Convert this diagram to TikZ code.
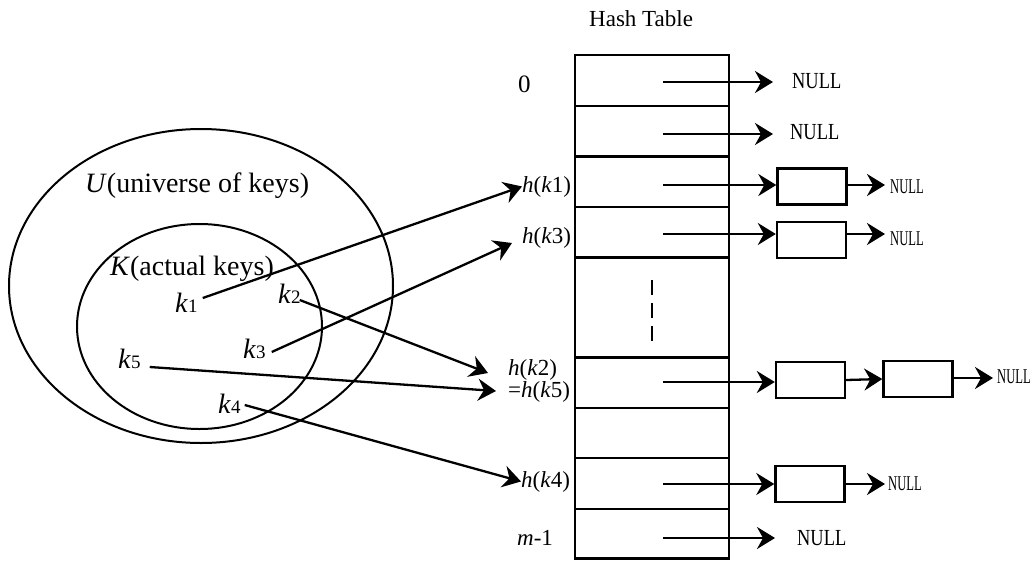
\documentclass[tikz,border=0pt]{standalone}
\usepackage{fontspec}
\setmainfont{Liberation Serif}
\usetikzlibrary{arrows.meta,shapes.geometric}

% horizontally condensed NULL labels
\newcommand\nullbig{{\fontsize{23}{25}\selectfont\scalebox{0.8}[1]{NULL}}}
\newcommand\nullsmall{{\fontsize{21}{23}\selectfont\scalebox{0.6}[1]{NULL}}}
% key with a small roman index
\newcommand\keyk[1]{\textit{k}{\fontsize{19}{20}\selectfont #1}}

\tikzset{
  rowcell/.style={draw, line width=2.6pt, minimum width=154pt, inner sep=0pt},
  listbox/.style={draw, line width=2.4pt, minimum width=69pt, minimum height=36pt, inner sep=0pt},
  ptr/.style={line width=2.3pt, -{Stealth[length=18pt,width=22pt,inset=6pt]}},
  setline/.style={draw, ellipse, line width=2pt, inner sep=0pt},
  bigtxt/.style={font=\fontsize{28}{30}\selectfont, inner sep=0pt, anchor=base west},
  keytxt/.style={font=\fontsize{28}{30}\selectfont, inner sep=0pt, anchor=base west},
  slottxt/.style={font=\fontsize{23}{25}\selectfont, inner sep=0pt, anchor=base west},
  nulltxt/.style={inner sep=0pt, anchor=base west},
  gapline/.style={line width=2.5pt, dash pattern=on 15pt off 8pt}
}

\begin{document}
\begin{tikzpicture}[x=1pt,y=-1pt]
\useasboundingbox (0,0) rectangle (1034,560);

% ---- sets of keys ----
\node[setline, minimum width=384pt, minimum height=314pt] (U) at (201,286) {};
\node[setline, minimum width=245pt, minimum height=205pt] (K) at (199.5,326.5) {};
\node[bigtxt] (Ulbl) at (85,192) {\textit{U}(universe of keys)};
\node[bigtxt] (Klbl) at (110,275) {\textit{K}(actual keys)};

\node[keytxt] (k1) at (175,312) {\keyk{1}};
\node[keytxt] (k2) at (278,303) {\keyk{2}};
\node[keytxt] (k3) at (243,358) {\keyk{3}};
\node[keytxt] (k5) at (118,368) {\keyk{5}};
\node[keytxt] (k4) at (218,413) {\keyk{4}};

% ---- hash table ----
\node[font=\fontsize{23}{25}\selectfont, inner sep=0pt, anchor=base west] (title) at (589,26) {Hash Table};

\node[rowcell, minimum height=51pt]   (r0) at (652,80.5)   {};
\node[rowcell, minimum height=50.5pt] (r1) at (652,131.25) {};
\node[rowcell, minimum height=50.5pt] (r2) at (652,181.75) {};
\node[rowcell, minimum height=50.5pt] (r3) at (652,232.25) {};
\node[rowcell, minimum height=100pt]  (r4) at (652,307.5)  {};
\node[rowcell, minimum height=50.5pt] (r5) at (652,382.75) {};
\node[rowcell, minimum height=50pt]   (r6) at (652,433)    {};
\node[rowcell, minimum height=51pt]   (r7) at (652,483.5)  {};
\node[rowcell, minimum height=49.5pt] (r8) at (652,533.75) {};

\draw[gapline] ([yshift=27.5pt]r4.center) -- ([yshift=-33.5pt]r4.center);

% slot labels
\node[slottxt, font=\fontsize{25}{27}\selectfont] (s0) at (518,92)  {0};
\node[slottxt] (h1) at (522,192) {\textit{h}(\textit{k}1)};
\node[slottxt] (h3) at (522,243) {\textit{h}(\textit{k}3)};
\node[slottxt] (h2) at (508,375) {\textit{h}(\textit{k}2)};
\node[slottxt] (h5) at (508,397) {=\textit{h}(\textit{k}5)};
\node[slottxt] (h4) at (521,487) {\textit{h}(\textit{k}4)};
\node[slottxt] (s8) at (517,545) {\textit{m}-1};

% ---- chains ----
\coordinate (p0) at (663,82);
\coordinate (p1) at (663,134);
\coordinate (p2) at (663,185);
\coordinate (p3) at (663,234);
\coordinate (p5) at (663,382);
\coordinate (p7) at (663,484);
\coordinate (p8) at (663,538);

\node[listbox] (b2) at (812,186.5) {};
\node[listbox] (b3) at (811.5,240) {};
\node[listbox] (b5a) at (810.5,380) {};
\node[listbox] (b5b) at (918,379) {};
\node[listbox] (b7) at (810,484) {};

\node[nulltxt] (n0) at (792,88)  {\nullbig};
\node[nulltxt] (n1) at (790,139) {\nullbig};
\node[nulltxt] (n2) at (890,193) {\nullsmall};
\node[nulltxt] (n3) at (890,245) {\nullsmall};
\node[nulltxt] (n5) at (997,383) {\nullsmall};
\node[nulltxt] (n7) at (888,490) {\nullsmall};
\node[nulltxt] (n8) at (797,545) {\nullbig};

\draw[ptr, shorten >=19pt] (p0) -- (p0 -| n0.west);
\draw[ptr, shorten >=17pt] (p1) -- (p1 -| n1.west);
\draw[ptr] (p2) -- (p2 -| b2.west);
\draw[ptr, shorten >=5pt] (p2 -| b2.east) -- (p2 -| n2.west);
\draw[ptr] (p3) -- (p3 -| b3.west);
\draw[ptr, shorten >=5pt] (p3 -| b3.east) -- (p3 -| n3.west);
\draw[ptr] (p5) -- (p5 -| b5a.west);
\draw[ptr] (b5a.east) -- (b5b.west);
\draw[ptr, shorten >=4pt] ([yshift=1pt]b5b.east) -- ([yshift=1pt]b5b.east -| n5.west);
\draw[ptr] (p7) -- (p7 -| b7.west);
\draw[ptr, shorten >=3pt] (b7.east) -- (b7.east -| n7.west);
\draw[ptr, shorten >=22pt] (p8) -- (p8 -| n8.west);

% ---- hashing the keys ----
\draw[ptr] ([xshift=5pt,yshift=14pt]k1.base east) -- (h1.west);
\draw[ptr] ([xshift=6pt,yshift=6pt]k3.base east) -- ([xshift=-10pt]h3.base west);
\draw[ptr] ([xshift=-1pt,yshift=3pt]k2.base east) -- ([xshift=-20pt,yshift=2pt]h2.base west);
\draw[ptr] ([xshift=9pt,yshift=1pt]k5.base east) -- ([xshift=-12pt,yshift=6pt]h5.base west);
\draw[ptr] ([xshift=4pt,yshift=8pt]k4.base east) -- (h4.west);
\end{tikzpicture}
\end{document}
